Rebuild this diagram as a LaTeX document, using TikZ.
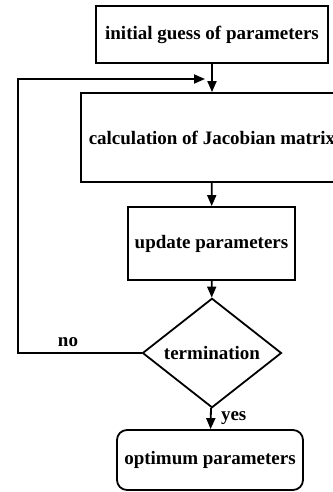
\documentclass[tikz,border=0pt]{standalone}
\usepackage{fontspec}
\setmainfont{Liberation Serif}
\usetikzlibrary{shapes.geometric,arrows.meta}

\begin{document}
\begin{tikzpicture}[x=1pt, y=1pt,
    every node/.style={font=\fontsize{19}{22}\selectfont\bfseries},
    procbox/.style={draw, line width=1.8pt, inner sep=2pt},
    decbox/.style={draw, diamond, line width=1.8pt, inner sep=0pt, minimum width=139pt, minimum height=79pt},
    endbox/.style={draw, rounded corners=10pt, line width=1.8pt, inner sep=2pt},
    flow/.style={line width=1.8pt, -{Triangle[length=11pt,width=9pt]}}]
    \useasboundingbox (0,0) rectangle (332,-492);
    % Nodes
    \node[procbox, minimum width=232pt, minimum height=57pt] (guess) at (212,-34.5) {initial guess of parameters};
    \node[procbox, minimum width=262pt, minimum height=89pt] (jacobian) at (212,-137.5) {calculation of Jacobian matrix};
    \node[procbox, minimum width=167pt, minimum height=73pt] (update) at (211.5,-243.5) {update parameters};
    \node[decbox] (term) at (212,-353) {termination};
    \node[endbox, minimum width=186pt, minimum height=60pt] (optimum) at (210,-460) {optimum parameters};
    \coordinate (loopin) at (205,-79);
    % Edges
    \draw[flow] (guess) -- (jacobian);
    \draw[flow] (jacobian) -- (update);
    \draw[flow] (update) -- (term);
    \draw[flow] (term) -- node[right, xshift=6pt] (yes) {yes} (optimum);
    \draw[flow] (term.west) -- (18,-353) |- (loopin);
    \node (no) at (68,-342) {no};
\end{tikzpicture}
\end{document}
